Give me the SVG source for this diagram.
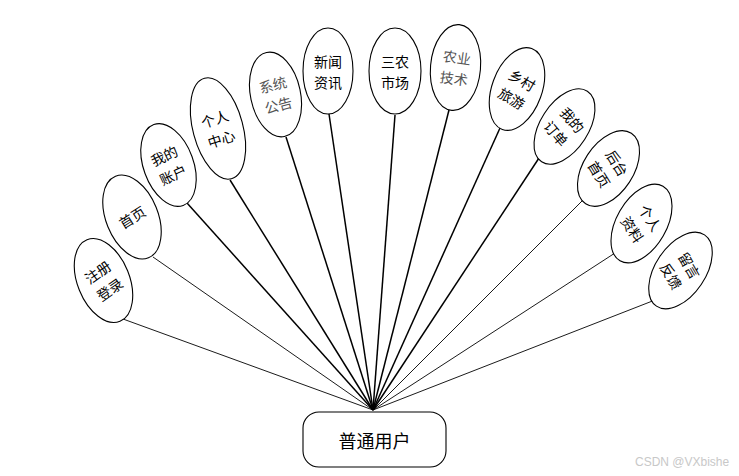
<svg xmlns="http://www.w3.org/2000/svg" width="739" height="476" viewBox="0 0 739 476">
<style>
.bg{fill:#fff}
.el{fill:#fff;stroke:#000;stroke-width:1.1}
.t{font-family:"Noto Sans CJK SC","Noto Sans",sans-serif;font-size:14px;fill:#000;text-anchor:middle;dominant-baseline:central}
.lt{fill:#555}
.c1{stroke:#000;stroke-width:0.9;fill:none}
.c2{stroke:#000;stroke-width:1.5;fill:none}
.box{fill:#fff;stroke:#000;stroke-width:1.1}
.main{font-family:"Noto Sans CJK SC","Noto Sans",sans-serif;font-size:18px;fill:#000;text-anchor:middle;dominant-baseline:central}
.wm{font-family:"Liberation Sans",Arial,sans-serif;font-size:12px;fill:#c8c8c8}
</style>
<rect class="bg" x="0" y="0" width="739" height="476"/>
<g id="connectors">
<line class="c1" x1="123" y1="319" x2="373" y2="410"/>
<line class="c1" x1="153" y1="257" x2="373" y2="410"/>
<line class="c2" x1="187" y1="203" x2="373" y2="410"/>
<line class="c2" x1="230" y1="180" x2="373" y2="410"/>
<line class="c2" x1="286" y1="137" x2="373" y2="410"/>
<line class="c2" x1="329" y1="114" x2="373" y2="410"/>
<line class="c2" x1="395" y1="115" x2="373" y2="410"/>
<line class="c2" x1="449" y1="110" x2="373" y2="410"/>
<line class="c2" x1="500" y1="128" x2="373" y2="410"/>
<line class="c2" x1="539" y1="158" x2="373" y2="410"/>
<line class="c1" x1="583" y1="200" x2="373" y2="410"/>
<line class="c1" x1="615" y1="253" x2="373" y2="410"/>
<line class="c1" x1="655" y1="300" x2="373" y2="410"/>
</g>
<g id="n1" transform="translate(103.5,280.5)">
<ellipse class="el" rx="26" ry="44" transform="rotate(-22)"/>
<g transform="rotate(-35)"><text class="t" x="0" y="-10.5">注册</text><text class="t" x="0" y="10.5">登录</text></g>
</g>
<g id="n2" transform="translate(132,217)">
<ellipse class="el" rx="26" ry="44" transform="rotate(-22)"/>
<g transform="rotate(-32)"><text class="t" x="0" y="0">首页</text></g>
</g>
<g id="n3" transform="translate(168.5,165)">
<ellipse class="el" rx="25" ry="43" transform="rotate(-20)"/>
<g transform="rotate(-25)"><text class="t" x="0" y="-10.5">我的</text><text class="t" x="0" y="10.5">账户</text></g>
</g>
<g id="n4" transform="translate(218,128.5)">
<ellipse class="el" rx="25" ry="52" transform="rotate(-15)"/>
<g transform="rotate(-18)"><text class="t" x="0" y="-10.5">个人</text><text class="t" x="0" y="10.5">中心</text></g>
</g>
<g id="n5" transform="translate(275.5,94.5)">
<ellipse class="el" rx="25" ry="43" transform="rotate(-12)"/>
<g transform="rotate(-15)"><text class="t lt" x="0" y="-10.5">系统</text><text class="t lt" x="0" y="10.5">公告</text></g>
</g>
<g id="n6" transform="translate(328,71)">
<ellipse class="el" rx="25" ry="43"/>
<text class="t" x="0" y="-10.5">新闻</text><text class="t" x="0" y="10.5">资讯</text>
</g>
<g id="n7" transform="translate(395,71)">
<ellipse class="el" rx="26" ry="43"/>
<text class="t" x="0" y="-10.5">三农</text><text class="t" x="0" y="10.5">市场</text>
</g>
<g id="n8" transform="translate(455.5,67.5)">
<ellipse class="el" rx="25" ry="43" transform="rotate(5)"/>
<g transform="rotate(8)"><text class="t lt" x="0" y="-10.5">农业</text><text class="t lt" x="0" y="10.5">技术</text></g>
</g>
<g id="n9" transform="translate(517,89)">
<ellipse class="el" rx="25" ry="43" transform="rotate(20)"/>
<g transform="rotate(30)"><text class="t" x="0" y="-10.5">乡村</text><text class="t" x="0" y="10.5">旅游</text></g>
</g>
<g id="n10" transform="translate(564.5,126.5)">
<ellipse class="el" rx="24" ry="42" transform="rotate(33)"/>
<g transform="rotate(50)"><text class="t" x="0" y="-10.5">我的</text><text class="t" x="0" y="10.5">订单</text></g>
</g>
<g id="n11" transform="translate(608.5,168.5)">
<ellipse class="el" rx="25" ry="42" transform="rotate(33)"/>
<g transform="rotate(58)"><text class="t" x="0" y="-10.5">后台</text><text class="t" x="0" y="10.5">首页</text></g>
</g>
<g id="n12" transform="translate(641.5,223.5)">
<ellipse class="el" rx="25" ry="43" transform="rotate(30)"/>
<g transform="rotate(57)"><text class="t" x="0" y="-10.5">个人</text><text class="t" x="0" y="10.5">资料</text></g>
</g>
<g id="n13" transform="translate(680.5,270.5)">
<ellipse class="el" rx="25" ry="43" transform="rotate(34)"/>
<g transform="rotate(60)"><text class="t" x="0" y="-10.5">留言</text><text class="t" x="0" y="10.5">反馈</text></g>
</g>
<g id="user">
<rect class="box" x="303" y="412" width="143" height="55" rx="16" ry="16"/>
<text class="main" x="374.5" y="440">普通用户</text>
</g>
<text class="wm" x="635" y="466">CSDN @VXbishe</text>
</svg>
